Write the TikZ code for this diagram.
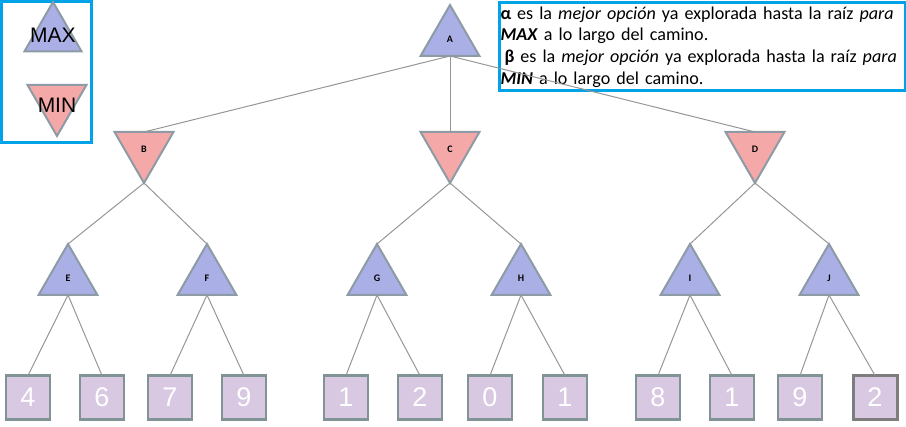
\documentclass[tikz,border=0pt]{standalone}
\usepackage{fontspec}
\setmainfont{Carlito}
\newfontfamily\leaffont{Liberation Sans}
\usetikzlibrary{shapes.geometric}

\definecolor{maxfill}{RGB}{170,176,230}
\definecolor{minfill}{RGB}{245,168,168}
\definecolor{shapeline}{RGB}{140,155,165}
\definecolor{leaffill}{RGB}{216,200,226}
\definecolor{leafline}{RGB}{128,148,150}
\definecolor{lastline}{RGB}{125,125,125}
\definecolor{edgegray}{RGB}{150,150,150}
\definecolor{boxblue}{RGB}{0,162,232}

\tikzset{
  maxnode/.style={regular polygon, regular polygon sides=3, minimum size=68pt,
    inner sep=0pt, outer sep=0pt, draw=shapeline, line width=2pt, fill=maxfill,
    font=\bfseries\fontsize{10}{11}\selectfont},
  minnode/.style={maxnode, fill=minfill, shape border rotate=180},
  leaf/.style={rectangle, minimum size=44pt, inner sep=0pt, outer sep=0pt,
    draw=leafline, line width=2.2pt, fill=leaffill, text=white,
    font=\leaffont\fontsize{27}{27}\selectfont},
  infobox/.style={draw=boxblue, line width=3pt},
  keyfont/.style={font=\leaffont\fontsize{21}{21}\selectfont}
}

\begin{document}
\begin{tikzpicture}[x=1pt,y=-1pt]
  \useasboundingbox (0,0) rectangle (906,427);

  % legend
  \node (legend) [infobox, minimum width=90pt, minimum height=141pt, inner sep=0pt] at (46.5,72) {};
  \node (maxkey) [maxnode, minimum size=66pt, label={[keyfont]center:MAX}] at (53,35) {};
  \node (minkey) [minnode, label={[keyfont,yshift=-3pt]center:MIN}] at (57,102) {};

  % alpha / beta note
  \node (info) [infobox, anchor=north west, text width=404pt, inner xsep=1pt,
    minimum height=88pt, align=left, font=\fontsize{18.1}{21.8}\selectfont] at (498,1.5)
    {{\bfseries α} es la \textit{mejor opción} ya explorada hasta la raíz \textit{para}\\
     \textbf{\textit{MAX}} a lo largo del camino.\\
     \hspace*{4pt}{\bfseries β} es la \textit{mejor opción} ya explorada hasta la raíz \textit{para}\\
     \textbf{\textit{MIN}} a lo largo del camino.};

  % tree
  \node (A) [maxnode] at (450,39) {A};
  \node (B) [minnode] at (144,149) {B};
  \node (C) [minnode] at (450,149) {C};
  \node (D) [minnode] at (755,149) {D};
  \node (E) [maxnode] at (68,278) {E};
  \node (F) [maxnode] at (207,278) {F};
  \node (G) [maxnode] at (377,278) {G};
  \node (H) [maxnode] at (521,278) {H};
  \node (I) [maxnode] at (690,278) {I};
  \node (J) [maxnode] at (829,278) {J};

  % leaves
  \node (E4) [leaf] at (28,397.5) {4};
  \node (E6) [leaf] at (102,397.5) {6};
  \node (F7) [leaf] at (170,397.5) {7};
  \node (F9) [leaf] at (244,397.5) {9};
  \node (G1) [leaf] at (346,397.5) {1};
  \node (G2) [leaf] at (420,397.5) {2};
  \node (H0) [leaf] at (490,397.5) {0};
  \node (H1) [leaf] at (565,397.5) {1};
  \node (I8) [leaf] at (658,397.5) {8};
  \node (I1) [leaf] at (732,397.5) {1};
  \node (J9) [leaf] at (800,397.5) {9};
  \node (J2) [leaf, draw=lastline, line width=3pt] at (875,397.5) {2};

  \path[draw=edgegray, line width=1pt]
    (A.side 2) edge (B.side 2)
    (A.side 2) edge (C.side 2)
    (A.side 2) edge (D.side 2)
    (B.corner 1) edge (E.corner 1)
    (B.corner 1) edge (F.corner 1)
    (C.corner 1) edge (G.corner 1)
    (C.corner 1) edge (H.corner 1)
    (D.corner 1) edge (I.corner 1)
    (D.corner 1) edge (J.corner 1)
    (E.side 2) edge (E4.north)
    (E.side 2) edge (E6.north)
    (F.side 2) edge (F7.north)
    (F.side 2) edge (F9.north)
    (G.side 2) edge (G1.north)
    (G.side 2) edge (G2.north)
    (H.side 2) edge (H0.north)
    (H.side 2) edge (H1.north)
    (I.side 2) edge (I8.north)
    (I.side 2) edge (I1.north)
    (J.side 2) edge (J9.north)
    (J.side 2) edge (J2.north);
\end{tikzpicture}
\end{document}
